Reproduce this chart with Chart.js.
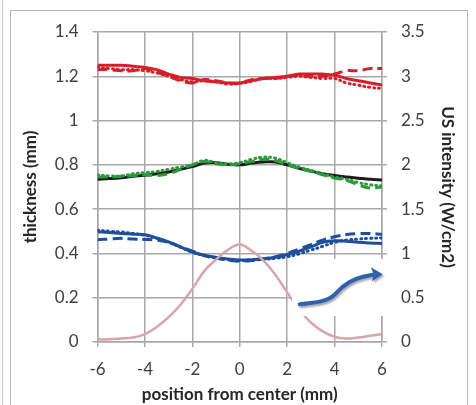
<!DOCTYPE html>
<html>
<head>
<meta charset="utf-8">
<script src="https://cdn.jsdelivr.net/npm/chart.js@4"></script>
<style>
  body { margin: 0; background: #fff; }
  #wrap { position: relative; width: 476px; height: 405px; }
  #frame { position: absolute; left: 10px; top: 10px; width: 456px; height: 394px; border: 1px solid #b8b8b8; border-bottom: none; pointer-events: none; }
  #edge { position: absolute; left: 2px; top: 0; width: 1px; height: 405px; background: #c8c8c8; }
</style>
</head>
<body>
<div id="wrap">
  <canvas id="chart" width="476" height="405"></canvas>
  <div id="frame"></div>
  <div id="edge"></div>
</div>
<script>
// position from center (mm)
const pos = [-6,-5.5,-5,-4.5,-4,-3.5,-3,-2.5,-2,-1.5,-1,-0.5,0,0.5,1,1.5,2,2.5,3,3.5,4,4.5,5,5.5,6];

// thickness (mm)
const redSolid  = [1.25,1.25,1.25,1.245,1.24,1.23,1.21,1.195,1.19,1.18,1.175,1.17,1.17,1.18,1.19,1.195,1.2,1.21,1.21,1.21,1.205,1.19,1.18,1.17,1.16];
const redDash   = [1.23,1.23,1.225,1.225,1.235,1.22,1.2,1.18,1.17,1.185,1.18,1.17,1.17,1.185,1.19,1.19,1.2,1.205,1.2,1.2,1.21,1.225,1.225,1.235,1.235];
const redDot    = [1.24,1.235,1.23,1.23,1.225,1.215,1.2,1.185,1.175,1.18,1.175,1.165,1.168,1.178,1.19,1.19,1.195,1.2,1.195,1.19,1.19,1.17,1.16,1.15,1.145];

const greenDash = [0.745,0.745,0.748,0.752,0.755,0.752,0.76,0.78,0.8,0.815,0.805,0.8,0.805,0.815,0.825,0.82,0.8,0.785,0.77,0.755,0.74,0.73,0.71,0.695,0.7];
const greenDot  = [0.755,0.75,0.75,0.76,0.765,0.77,0.78,0.79,0.8,0.82,0.81,0.805,0.81,0.825,0.835,0.83,0.81,0.79,0.775,0.76,0.745,0.735,0.72,0.71,0.705];
const blackLine = [0.735,0.738,0.742,0.748,0.753,0.76,0.768,0.78,0.792,0.808,0.81,0.803,0.8,0.808,0.813,0.813,0.8,0.785,0.772,0.76,0.752,0.745,0.74,0.735,0.732];

const blueSolid = [0.497,0.495,0.49,0.487,0.485,0.47,0.452,0.43,0.407,0.392,0.382,0.375,0.37,0.372,0.376,0.383,0.395,0.41,0.43,0.45,0.457,0.455,0.45,0.447,0.445];
const blueDash  = [0.462,0.465,0.468,0.465,0.463,0.46,0.45,0.43,0.41,0.39,0.378,0.37,0.365,0.368,0.375,0.385,0.4,0.42,0.44,0.46,0.475,0.485,0.49,0.49,0.487];
const blueDot   = [0.505,0.5,0.497,0.49,0.482,0.468,0.45,0.428,0.405,0.39,0.38,0.372,0.368,0.37,0.373,0.378,0.385,0.398,0.415,0.432,0.45,0.46,0.465,0.468,0.47];

// US intensity (W/cm2)
const intensity = [0.03,0.03,0.04,0.05,0.09,0.17,0.28,0.42,0.6,0.8,0.93,1.04,1.1,1.03,0.92,0.76,0.56,0.37,0.22,0.12,0.06,0.04,0.05,0.07,0.09];

// white patch and arrow (data units: position, thickness)
const patchX = [2.2, 6.2];
const patchY = [0.117, 0.375];
const arrowX = [2.53, 3.3, 3.9, 4.3, 4.9, 5.5, 5.95];
const arrowY = [0.171, 0.178, 0.2, 0.25, 0.288, 0.302, 0.306];

const gridCol = '#a8a8a8';
const textCol = '#404040';
const fam = 'Lato, "Open Sans", sans-serif';

function pts(arr) { return arr.map((v, i) => ({ x: pos[i], y: v })); }
function fmt(v) { return String(Math.round(v * 100) / 100); }

function ds(arr, color, dash, axis, width) {
  return {
    data: pts(arr),
    borderColor: color,
    borderWidth: width || 3,
    borderDash: dash || [],
    borderCapStyle: dash && dash[0] < 4 ? 'round' : 'butt',
    pointRadius: 0,
    tension: 0.4,
    fill: false,
    yAxisID: axis || 'y'
  };
}

const patchArrow = {
  id: 'patchArrow',
  afterDatasetsDraw(chart) {
    const c = chart.ctx, sx = chart.scales.x, sy = chart.scales.y;
    c.save();
    c.fillStyle = '#fff';
    const x0 = sx.getPixelForValue(patchX[0]), x1 = sx.getPixelForValue(patchX[1]);
    const y0 = sy.getPixelForValue(patchY[1]), y1 = sy.getPixelForValue(patchY[0]);
    c.fillRect(x0, y0, x1 - x0, y1 - y0);

    const p = arrowX.map((v, i) => [sx.getPixelForValue(v), sy.getPixelForValue(arrowY[i])]);
    c.shadowColor = 'rgba(60,60,80,0.45)';
    c.shadowOffsetX = 1.5;
    c.shadowOffsetY = 2;
    c.shadowBlur = 2;
    c.strokeStyle = '#2f62ad';
    c.fillStyle = '#2f62ad';
    c.lineWidth = 4;
    c.lineCap = 'round';
    c.beginPath();
    c.moveTo(p[0][0], p[0][1]);
    for (let i = 1; i < p.length - 2; i++) {
      const mx = (p[i][0] + p[i + 1][0]) / 2, my = (p[i][1] + p[i + 1][1]) / 2;
      c.quadraticCurveTo(p[i][0], p[i][1], mx, my);
    }
    const n = p.length;
    const tipBase = [p[n - 1][0] - 8, p[n - 1][1] + 0.5];
    c.quadraticCurveTo(p[n - 2][0], p[n - 2][1], tipBase[0], tipBase[1]);
    c.stroke();
    // arrow head
    const tx = p[n - 1][0], ty = p[n - 1][1];
    c.beginPath();
    c.moveTo(tx + 2, ty);
    c.lineTo(tx - 10, ty - 7);
    c.lineTo(tx - 7, ty);
    c.lineTo(tx - 9, ty + 7);
    c.closePath();
    c.fill();
    c.restore();
  }
};

const ctx = document.getElementById('chart').getContext('2d');
const chart = new Chart(ctx, {
  type: 'line',
  data: {
    datasets: [
      ds(intensity, '#d8a4ae', null, 'y2', 2.5),
      ds(redDash, '#d42029', [10, 5]),
      ds(redDot, '#d42029', [1, 4]),
      ds(redSolid, '#d42029'),
      ds(greenDash, '#2c9a3c', [10, 5]),
      ds(greenDot, '#2c9a3c', [1, 4]),
      ds(blackLine, '#1c1c1c'),
      ds(blueDash, '#1f4f9c', [10, 5]),
      ds(blueDot, '#1f4f9c', [1, 4]),
      ds(blueSolid, '#1f4f9c')
    ]
  },
  options: {
    responsive: false,
    animation: false,
    layout: { padding: { left: 10, right: 10, top: 32, bottom: 0 } },
    plugins: { legend: { display: false }, tooltip: { enabled: false } },
    scales: {
      x: {
        type: 'linear', min: -6, max: 6,
        ticks: { stepSize: 2, padding: 12, color: textCol, font: { family: fam, size: 17 }, callback: fmt },
        grid: { color: gridCol, lineWidth: 1.5, tickLength: 5 },
        border: { color: gridCol, width: 1.5 },
        title: { display: true, text: 'position from center (mm)', color: '#262626',
                 font: { family: fam, size: 17, weight: 'bold' }, padding: { top: 0, bottom: 0 } },
        afterFit(s) { s.height = 63; }
      },
      y: {
        position: 'left', min: 0, max: 1.4,
        ticks: { stepSize: 0.2, padding: 14, color: textCol, font: { family: fam, size: 17 }, callback: fmt },
        grid: { color: gridCol, lineWidth: 1.5, tickLength: 5 },
        border: { color: gridCol, width: 1.5 },
        title: { display: true, text: 'thickness (mm)', color: '#262626',
                 font: { family: fam, size: 17, weight: 'bold' }, padding: { top: 10, bottom: 0 } },
        afterFit(s) { s.width = 87.5; }
      },
      y2: {
        position: 'right', min: 0, max: 3.5,
        ticks: { stepSize: 0.5, padding: 14, color: textCol, font: { family: fam, size: 17 }, callback: fmt },
        grid: { drawOnChartArea: false, color: gridCol, lineWidth: 1.5, tickLength: 5 },
        border: { color: gridCol, width: 1.5 },
        title: { display: true, text: 'US intensity (W/cm2)', color: '#262626',
                 font: { family: fam, size: 17, weight: 'bold' }, padding: { top: 8, bottom: 0 } },
        afterFit(s) { s.width = 84; }
      }
    }
  },
  plugins: [patchArrow]
});
</script>
</body>
</html>
